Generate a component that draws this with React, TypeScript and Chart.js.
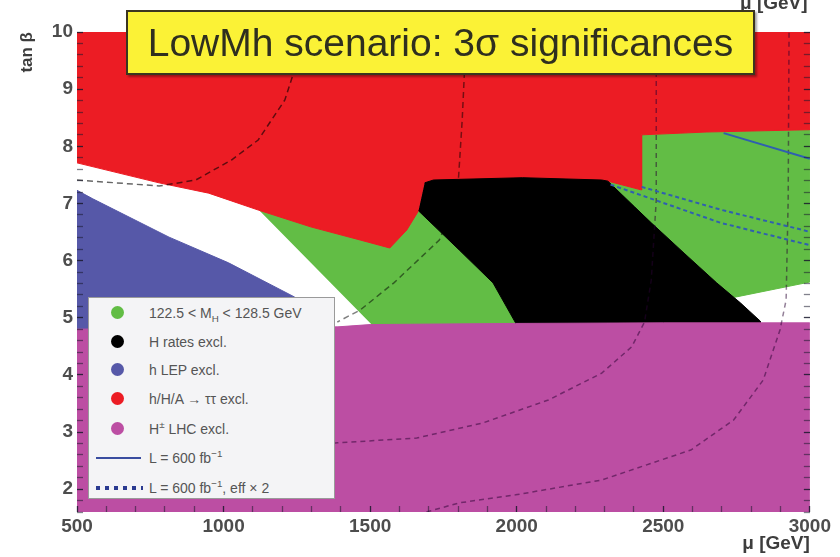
import React, { useEffect, useRef } from 'react';
import { Chart, registerables } from 'chart.js';

Chart.register(...registerables);

// ---- axes ----
const X_MIN = 500;
const X_MAX = 3000;
const Y_MIN = 1.6;
const Y_MAX = 10;
const X_TICKS = [500, 1000, 1500, 2000, 2500, 3000];
const Y_TICKS = [2, 3, 4, 5, 6, 7, 8, 9, 10];

// ---- excluded / allowed regions, points are [mu (GeV), tan beta] ----
const HPM_LHC_EXCL: [number, number][] = [
  [500, 1.6], [3000, 1.6], [3000, 4.91], [2500, 4.91], [1996, 4.9], [1500, 4.88], [1390, 4.84], [500, 4.8],
];
const H_RATES_EXCL: [number, number][] = [
  [1686, 7.36], [1716, 7.41], [2020, 7.45], [2290, 7.41], [2311, 7.39], [2402, 6.94], [2459, 6.66],
  [2571, 6.13], [2682, 5.61], [2763, 5.26], [2831, 4.94], [2831, 4.8], [1996, 4.8], [1996, 4.91],
  [1919, 5.61], [1804, 6.185], [1665, 6.87],
];
const TAUTAU_EXCL: [number, number][] = [
  [500, 10], [3000, 10], [3000, 8.29], [2648, 8.25], [2426, 8.2], [2426, 7.235], [2311, 7.39],
  [1716, 7.41], [1686, 7.36], [1665, 6.87], [1625, 6.535], [1567, 6.22], [1466, 6.36], [1297, 6.59],
  [1118, 6.885], [949, 7.18], [780, 7.36], [500, 7.71],
];
const MH_WINDOW_LOW: [number, number][] = [
  [1118, 6.9], [1690, 6.9], [1814, 6.185], [1929, 5.61], [2010, 4.8], [1521, 4.8],
];
const MH_WINDOW_HIGH: [number, number][] = [
  [2311, 7.39], [2426, 7.235], [2426, 8.2], [2648, 8.25], [3000, 8.29], [3000, 5.625],
  [2745, 5.36], [2650, 5.5], [2300, 7.2],
];
const LEP_EXCL: [number, number][] = [
  [500, 4.6], [500, 7.23], [554, 7.08], [814, 6.41], [1017, 5.96], [1243, 5.36], [1340, 4.84], [1340, 4.6],
];

// ---- contour curves ----
const CURVE_A: [number, number][] = [
  [500, 7.41], [780, 7.305], [905, 7.41], [1027, 7.76], [1118, 8.11], [1209, 8.81], [1253, 9.51], [1263, 10],
];
const CURVE_B: [number, number][] = [
  [1828, 10], [1814, 8.46], [1801, 7.41], [1780, 6.9], [1736, 6.36], [1581, 5.61], [1466, 5.135], [1388, 4.925],
];
const CURVE_D: [number, number][] = [
  [1253, 2.72], [1388, 2.81], [1659, 2.895], [1885, 3.16], [2108, 3.56], [2290, 4.03], [2392, 4.49],
  [2436, 4.925], [2459, 5.66], [2476, 7.06], [2476, 10],
];
const CURVE_E: [number, number][] = [
  [1692, 1.6], [1804, 1.76], [1996, 1.9], [2290, 2.16], [2594, 2.685], [2740, 3.21], [2841, 3.91],
  [2898, 4.785], [2919, 5.31], [2926, 7.06], [2929, 10],
];
const LUMI_600: [number, number][] = [[2706, 8.23], [3000, 7.78]];
const LUMI_600_EFF2_A: [number, number][] = [[2426, 7.29], [2696, 6.89], [2976, 6.535], [3000, 6.5]];
const LUMI_600_EFF2_B: [number, number][] = [[2320, 7.33], [2696, 6.66], [2976, 6.3], [3000, 6.27]];

// ---- colours ----
const C_GREEN = '#62bd45';
const C_BLACK = '#000000';
const C_BLUE = '#5658a8';
const C_RED = '#ec1c24';
const C_MAGENTA = '#bc4ea3';
const C_LUMI = '#2f5fb0';

const LEGEND_ITEMS = [
  { key: 'mh', color: C_GREEN },
  { key: 'rates', color: C_BLACK },
  { key: 'lep', color: C_BLUE },
  { key: 'tautau', color: C_RED },
  { key: 'hpm', color: C_MAGENTA },
];

const toXY = (pts: [number, number][]) => pts.map(([x, y]) => ({ x, y }));

const region = (label: string, pts: [number, number][], color: string) => ({
  label,
  data: toXY(pts),
  fill: 'shape',
  backgroundColor: color,
  borderColor: color,
  borderWidth: 1,
  pointRadius: 0,
  pointHoverRadius: 0,
  tension: 0,
});

const curve = (label: string, pts: [number, number][], color: string, dash: number[], width: number) => ({
  label,
  data: toXY(pts),
  fill: false,
  backgroundColor: color,
  borderColor: color,
  borderWidth: width,
  borderDash: dash,
  pointRadius: 0,
  pointHoverRadius: 0,
  tension: 0,
});

const xMinor: number[] = [];
for (let v = X_MIN; v <= X_MAX; v += 100) xMinor.push(v);
const yMinor: number[] = [];
for (let k = 16; k <= 100; k += 2) yMinor.push(k / 10);

const TICK_FONT = { family: 'Liberation Sans, Arial, sans-serif', size: 19, weight: 'bold' as const };

const tickColor = (major: number[]) => (ctx: any) =>
  ctx.tick && major.includes(ctx.tick.value) ? 'rgba(25,25,45,0.85)' : 'rgba(25,25,45,0.55)';

const SUP: React.CSSProperties = { fontSize: '70%', position: 'relative', top: -6, lineHeight: 0 };
const SUB: React.CSSProperties = { fontSize: '70%', position: 'relative', top: 4, lineHeight: 0 };

export default function App() {
  const ref = useRef<HTMLCanvasElement>(null);

  useEffect(() => {
    if (!ref.current) return;
    const chart = new Chart(ref.current, {
      type: 'line',
      data: {
        datasets: [
          curve('L = 600 fb-1', LUMI_600, C_LUMI, [], 2),
          curve('L = 600 fb-1, eff x 2 (a)', LUMI_600_EFF2_A, C_LUMI, [4, 3], 2),
          curve('L = 600 fb-1, eff x 2 (b)', LUMI_600_EFF2_B, C_LUMI, [4, 3], 2),
          curve('contour A', CURVE_A, 'rgba(0,0,0,0.6)', [6, 4], 1.5),
          curve('contour B', CURVE_B, 'rgba(0,0,0,0.5)', [6, 4], 1.5),
          curve('contour D', CURVE_D, 'rgba(40,0,50,0.5)', [5, 4], 1.5),
          curve('contour E', CURVE_E, 'rgba(40,0,50,0.5)', [5, 4], 1.5),
          region('H± LHC excl.', HPM_LHC_EXCL, C_MAGENTA),
          region('H rates excl.', H_RATES_EXCL, C_BLACK),
          region('h/H/A → ττ excl.', TAUTAU_EXCL, C_RED),
          region('122.5 < MH < 128.5 GeV (a)', MH_WINDOW_LOW, C_GREEN),
          region('122.5 < MH < 128.5 GeV (b)', MH_WINDOW_HIGH, C_GREEN),
          region('h LEP excl.', LEP_EXCL, C_BLUE),
        ] as any,
      },
      options: {
        animation: false,
        responsive: true,
        maintainAspectRatio: false,
        events: [],
        layout: { padding: { top: 32, right: 0, bottom: 0, left: 0 } },
        plugins: {
          legend: { display: false },
          tooltip: { enabled: false },
        },
        scales: {
          x: {
            type: 'linear',
            position: 'bottom',
            min: X_MIN,
            max: X_MAX,
            afterFit: (s: any) => { s.height = 45; },
            afterBuildTicks: (s: any) => { s.ticks = xMinor.map((v) => ({ value: v })); },
            ticks: {
              autoSkip: false,
              maxRotation: 0,
              padding: 9,
              color: '#4d4d4d',
              font: TICK_FONT,
              callback: (v: any) => (X_TICKS.includes(Number(v)) ? String(v) : ''),
            },
            grid: {
              drawOnChartArea: false,
              drawTicks: true,
              tickLength: -6,
              z: 1,
              tickColor: tickColor(X_TICKS),
              tickWidth: 1.3,
            },
            border: { display: false },
            title: {
              display: true,
              text: 'μ [GeV]',
              align: 'end',
              color: '#3d3d3d',
              font: { family: 'Liberation Sans, Arial, sans-serif', size: 19, weight: 'bold' },
              padding: { top: 0, bottom: 2 },
            },
          },
          y: {
            type: 'linear',
            position: 'left',
            min: Y_MIN,
            max: Y_MAX,
            afterFit: (s: any) => { s.width = 77; },
            afterBuildTicks: (s: any) => { s.ticks = yMinor.map((v) => ({ value: v })); },
            ticks: {
              autoSkip: false,
              padding: 10,
              color: '#4d4d4d',
              font: TICK_FONT,
              callback: (v: any) => (Y_TICKS.includes(Number(v)) ? String(v) : ''),
            },
            grid: {
              drawOnChartArea: false,
              drawTicks: true,
              tickLength: -6,
              z: 1,
              tickColor: tickColor(Y_TICKS),
              tickWidth: 1.3,
            },
            border: { display: false },
            title: {
              display: true,
              text: 'tan β',
              align: 'end',
              color: '#3d3d3d',
              font: { family: 'Liberation Sans, Arial, sans-serif', size: 17, weight: 'bold' },
              padding: { top: 17, bottom: 0 },
            },
          },
          y2: {
            type: 'linear',
            position: 'right',
            display: true,
            min: Y_MIN,
            max: Y_MAX,
            afterFit: (s: any) => { s.width = 25; },
            afterBuildTicks: (s: any) => { s.ticks = yMinor.map((v) => ({ value: v })); },
            ticks: { autoSkip: false, padding: 0, callback: () => '' },
            grid: {
              drawOnChartArea: false,
              drawTicks: true,
              tickLength: -6,
              z: 1,
              tickColor: tickColor(Y_TICKS),
              tickWidth: 1.3,
            },
            border: { display: false },
          },
        },
      } as any,
    });
    return () => chart.destroy();
  }, []);

  const legendText = (key: string) => {
    switch (key) {
      case 'mh':
        return <>122.5 &lt; M<span style={SUB}>H</span> &lt; 128.5 GeV</>;
      case 'rates':
        return <>H rates excl.</>;
      case 'lep':
        return <>h LEP excl.</>;
      case 'tautau':
        return <>h/H/A → ττ excl.</>;
      default:
        return <>H<span style={SUP}>±</span> LHC excl.</>;
    }
  };

  const rowY = [15, 44, 72, 101, 131];

  return (
    <div style={{ position: 'absolute', left: 0, top: 0, width: 840, height: 557, background: '#fff', overflow: 'hidden' }}>
      <canvas ref={ref} />
      <div
        style={{
          position: 'absolute', left: 740, top: -7, font: 'bold 19px "Liberation Sans", Arial, sans-serif',
          color: '#3d3d3d', lineHeight: '19px', whiteSpace: 'nowrap',
        }}
      >
        μ [GeV]
      </div>
      <div
        style={{
          position: 'absolute', left: 126, top: 10, width: 629, height: 65, boxSizing: 'border-box',
          background: '#fbf236', border: '2px solid #3b3520', boxShadow: '2px 2px 2px rgba(0,0,0,0.35)',
          display: 'flex', alignItems: 'center', justifyContent: 'center',
          font: '39px "Liberation Sans", Arial, sans-serif', color: '#2f2f1f', whiteSpace: 'nowrap',
        }}
      >
        LowMh scenario: 3σ significances
      </div>
      <div
        style={{
          position: 'absolute', left: 88, top: 297, width: 247, height: 202, boxSizing: 'border-box',
          background: '#f4f4f6', border: '1px solid #9a9a9a',
          font: '14px "Liberation Sans", Arial, sans-serif', color: '#555555',
        }}
      >
        {LEGEND_ITEMS.map((it, i) => (
          <React.Fragment key={it.key}>
            <div
              style={{
                position: 'absolute', left: 22, top: rowY[i] - 7, width: 13, height: 13, borderRadius: '50%',
                background: it.color,
              }}
            />
            <div style={{ position: 'absolute', left: 60, top: rowY[i] - 9, lineHeight: '18px', whiteSpace: 'nowrap' }}>
              {legendText(it.key)}
            </div>
          </React.Fragment>
        ))}
        <div style={{ position: 'absolute', left: 7, top: 159, width: 45, height: 2, background: '#3a4da0' }} />
        <div style={{ position: 'absolute', left: 60, top: 151, lineHeight: '18px', whiteSpace: 'nowrap' }}>
          L = 600 fb<span style={SUP}>−1</span>
        </div>
        <div
          style={{
            position: 'absolute', left: 7, top: 188, width: 47, height: 4,
            background: 'repeating-linear-gradient(to right, #2a3a90 0 4px, transparent 4px 9px)',
          }}
        />
        <div style={{ position: 'absolute', left: 60, top: 181, lineHeight: '18px', whiteSpace: 'nowrap' }}>
          L = 600 fb<span style={SUP}>−1</span>, eff × 2
        </div>
      </div>
    </div>
  );
}
